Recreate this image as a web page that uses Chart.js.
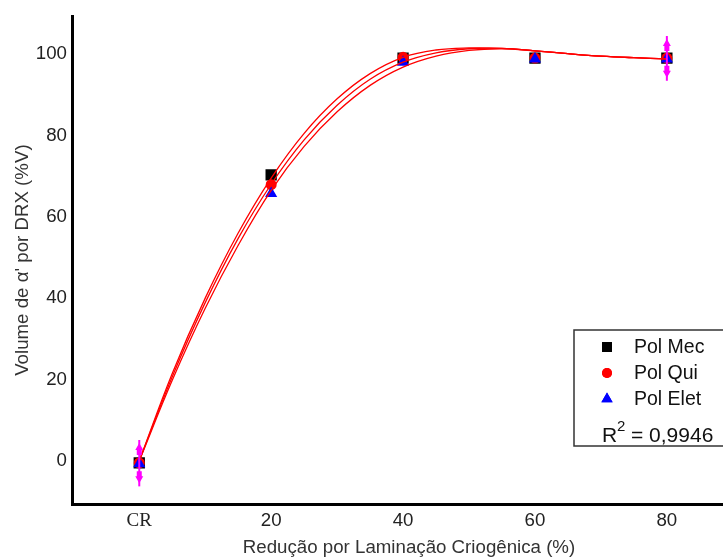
<!DOCTYPE html>
<html>
<head>
<meta charset="utf-8">
<script src="https://cdn.jsdelivr.net/npm/chart.js@4.4.0/dist/chart.umd.min.js"></script>
<style>
  html, body { margin: 0; padding: 0; background: #fff; overflow: hidden; }
  #wrap { width: 723px; height: 557px; overflow: hidden; }
  #inner { width: 754px; height: 557px; position: relative; }
</style>
</head>
<body>
<div id="wrap"><div id="inner"><canvas id="chart"></canvas></div></div>
<script>
// reduction levels (CR = as received)
const categories = ['CR', '20', '40', '60', '80'];
const reduction = [0, 20, 40, 60, 80];

// measured points
const polMec = [-0.5, 70.3, 99.0, 99.0, 99.0];
const polQui = [-0.5, 67.9, 99.2, 99.0, 99.0];
const polElet = [-0.7, 65.7, 98.0, 98.8, 98.8];
const errorBar = [5.7, 0, 0, 0, 5.5];

// fitted curves
const fitX = [0, 5, 10, 15, 20, 25, 30, 35, 40, 45, 50, 55, 60, 65, 70, 75, 80];
const fitMec = [0, 21.5, 40.0, 56.0, 69.5, 80.5, 89.0, 95.2, 99.2, 101.0, 101.5, 101.4, 100.8, 100.1, 99.5, 99.1, 98.8];
const fitQui = [0, 20.7, 38.9, 54.7, 68.0, 78.9, 87.4, 93.8, 98.0, 100.3, 101.3, 101.4, 100.8, 100.1, 99.5, 99.1, 98.8];
const fitElet = [0, 19.8, 37.5, 53.0, 66.5, 77.3, 85.8, 92.3, 96.8, 99.5, 100.9, 101.3, 100.8, 100.1, 99.5, 99.1, 98.8];

const yTicks = [0, 20, 40, 60, 80, 100];
const r2Text = '0,9946';

const SANS = '"Liberation Sans", Arial, sans-serif';
const pts = (xs, ys) => xs.map((x, i) => ({x: x, y: ys[i]}));

const fitLine = (ys) => ({
  data: pts(fitX, ys),
  showLine: true,
  borderColor: '#ff0000',
  borderWidth: 1.3,
  pointRadius: 0,
  tension: 0.4,
  fill: false,
  order: 0
});

const errorBars = {
  id: 'errorBars',
  afterDatasetsDraw(chart) {
    const {ctx, scales: {x, y}} = chart;
    ctx.save();
    ctx.strokeStyle = '#ff00ff';
    ctx.fillStyle = '#ff00ff';
    ctx.lineWidth = 2;
    reduction.forEach((r, i) => {
      if (!errorBar[i]) return;
      const px = x.getPixelForValue(r);
      const mid = (polMec[i] + polQui[i] + polElet[i]) / 3;
      const top = y.getPixelForValue(mid + errorBar[i]);
      const bot = y.getPixelForValue(mid - errorBar[i]);
      ctx.beginPath();
      ctx.moveTo(px, top);
      ctx.lineTo(px, bot);
      ctx.stroke();
      // arrow heads pointing outwards, set a little inside the bar ends
      [[top, 1], [bot, -1]].forEach(([py, d]) => {
        ctx.beginPath();
        ctx.moveTo(px, py + d * 3);
        ctx.lineTo(px - 4, py + d * 10);
        ctx.lineTo(px - 2.5, py + d * 10);
        ctx.lineTo(px - 2.5, py + d * 15);
        ctx.lineTo(px + 2.5, py + d * 15);
        ctx.lineTo(px + 2.5, py + d * 10);
        ctx.lineTo(px + 4, py + d * 10);
        ctx.closePath();
        ctx.fill();
      });
    });
    ctx.restore();
  }
};

const boxLegend = {
  id: 'boxLegend',
  afterDraw(chart) {
    const ctx = chart.ctx;
    ctx.save();
    ctx.strokeStyle = '#333';
    ctx.lineWidth = 1.5;
    ctx.fillStyle = '#fff';
    ctx.fillRect(574, 330, 170, 116);
    ctx.strokeRect(574, 330, 170, 116);
    const items = [
      ['Pol Mec', 'rect', '#000', 7],
      ['Pol Qui', 'circle', '#ff0000', 5],
      ['Pol Elet', 'triangle', '#0000ff', 6.5]
    ];
    ctx.font = '19.5px ' + SANS;
    ctx.textBaseline = 'middle';
    items.forEach(([label, style, color, rad], i) => {
      const cy = 347 + i * 26;
      ctx.fillStyle = color;
      ctx.strokeStyle = color;
      Chart.helpers.drawPoint(ctx, {pointStyle: style, radius: rad, borderWidth: 0}, 607, cy);
      ctx.fill();
      ctx.fillStyle = '#111';
      ctx.fillText(label, 634, cy + 1);
    });
    ctx.fillStyle = '#111';
    ctx.font = '21px ' + SANS;
    ctx.textBaseline = 'alphabetic';
    ctx.fillText('R', 602, 442);
    ctx.font = '15px ' + SANS;
    ctx.fillText('2', 617, 431);
    ctx.font = '21px ' + SANS;
    ctx.fillText('= ' + r2Text, 631, 442);
    ctx.restore();
  }
};

new Chart(document.getElementById('chart'), {
  type: 'scatter',
  data: {
    datasets: [
      fitLine(fitMec),
      fitLine(fitQui),
      fitLine(fitElet),
      {label: 'Pol Elet', data: pts(reduction, polElet), pointStyle: 'triangle', pointRadius: 7, backgroundColor: '#0000ff', borderColor: '#0000ff', borderWidth: 0, order: 3},
      {label: 'Pol Qui', data: pts(reduction, polQui), pointStyle: 'circle', pointRadius: 5.5, backgroundColor: '#ff0000', borderColor: '#ff0000', borderWidth: 0, order: 4},
      {label: 'Pol Mec', data: pts(reduction, polMec), pointStyle: 'rect', pointRadius: 8, backgroundColor: '#000', borderColor: '#000', borderWidth: 0, order: 5}
    ]
  },
  options: {
    responsive: true,
    maintainAspectRatio: false,
    animation: false,
    layout: {padding: {top: 4, right: 0, left: 0, bottom: 0}},
    plugins: {legend: {display: false}, tooltip: {enabled: false}},
    scales: {
      x: {
        type: 'linear',
        min: -10.2,
        max: 92.0,
        grid: {display: false, drawTicks: false},
        border: {color: '#000', width: 3},
        afterBuildTicks: (s) => { s.ticks = reduction.map(v => ({value: v})); },
        afterFit: (s) => { s.height = 53; },
        ticks: {
          padding: 6,
          color: '#222',
          font: (c) => c.tick && c.tick.value === 0
            ? {family: '"Liberation Serif", "Times New Roman", serif', size: 19}
            : {family: SANS, size: 18.7},
          callback: (v) => categories[reduction.indexOf(v)]
        },
        title: {
          display: true,
          text: 'Redução por Laminação Criogênica (%)',
          color: '#333',
          font: {family: SANS, size: 18.7},
          padding: {top: 0, bottom: -2}
        }
      },
      y: {
        min: -10.6,
        max: 109.3,
        grid: {display: false, drawTicks: false},
        border: {color: '#000', width: 3},
        afterBuildTicks: (s) => { s.ticks = yTicks.map(v => ({value: v})); },
        afterFit: (s) => { s.width = 72; },
        ticks: {
          padding: 5,
          color: '#222',
          font: {family: SANS, size: 18.7}
        },
        title: {
          display: true,
          text: "Volume de α' por DRX (%V)",
          color: '#333',
          font: {family: SANS, size: 18.7},
          padding: {top: 12, bottom: 0}
        }
      }
    }
  },
  plugins: [errorBars, boxLegend]
});
</script>
</body>
</html>
